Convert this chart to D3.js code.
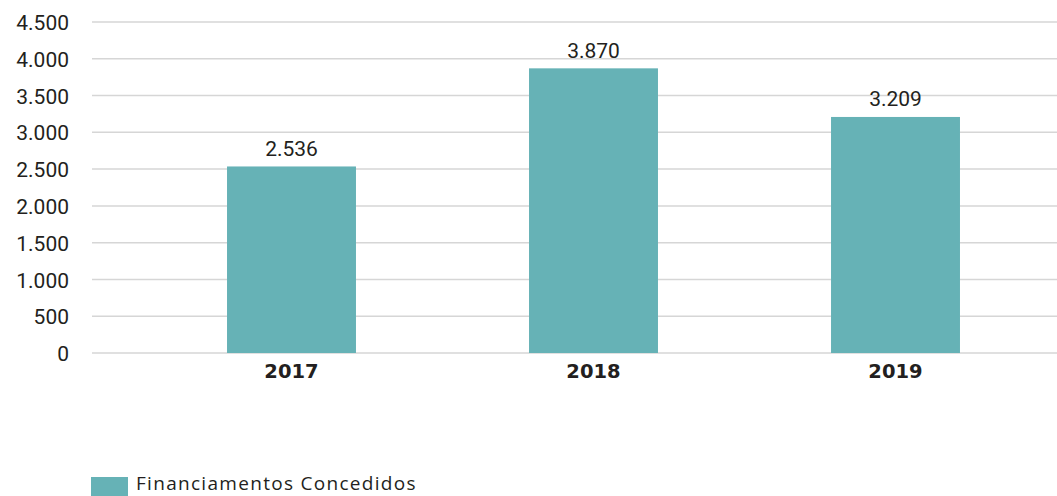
<!DOCTYPE html>
<html>
<head>
<meta charset="utf-8">
<script src="https://cdn.jsdelivr.net/npm/d3@7"></script>
<style>
  body { margin: 0; background: #fff; }
  svg { display: block; }
  .tick text { font-family: Roboto, sans-serif; font-size: 21px; fill: #231f20; }
  .grid line { stroke: #d6d6d6; stroke-width: 1.5; }
  .value { font-family: Roboto, sans-serif; font-size: 21px; fill: #231f20; text-anchor: middle; }
  .xLabel { font-family: 'DejaVu Sans', sans-serif; font-weight: bold; font-size: 19.5px; fill: #231f20; text-anchor: middle; }
  .legend { font-family: 'Open Sans', sans-serif; font-size: 19px; fill: #231f20; letter-spacing: 1.3px; }
</style>
</head>
<body>
<svg id="chart"></svg>
<script>
const years = ['2017', '2018', '2019'];
const financiamentos = [2536, 3870, 3209];
const yTicks = [0, 500, 1000, 1500, 2000, 2500, 3000, 3500, 4000, 4500];
const seriesName = 'Financiamentos Concedidos';

const width = 1057, height = 496;
const barColor = '#66b2b6';

const svg = d3.select('#chart').attr('width', width).attr('height', height);

// pt-BR style numbers: 4.500
const fmt = d3.formatLocale({ decimal: ',', thousands: '.', grouping: [3], currency: ['', ''] }).format(',');

// y scale: 0 sits on 353, 4.500 on 22
const y = d3.scaleLinear().domain([0, 4500]).range([353, 22]);

const x = d3.scaleBand()
  .domain(years)
  .range([140.5, 1046.5])
  .paddingInner(0.573)
  .paddingOuter(0.2865);

// gridlines
svg.append('g')
  .attr('class', 'grid')
  .selectAll('line')
  .data(yTicks)
  .join('line')
  .attr('x1', 92)
  .attr('x2', width)
  .attr('y1', d => y(d))
  .attr('y2', d => y(d));

// y axis labels
const yAxis = svg.append('g')
  .attr('transform', 'translate(69,0)')
  .call(d3.axisLeft(y).tickValues(yTicks).tickSize(0).tickPadding(0).tickFormat(fmt));
yAxis.select('.domain').remove();
yAxis.selectAll('.tick text').attr('dy', '0.36em');

// bars
svg.append('g')
  .selectAll('rect')
  .data(financiamentos)
  .join('rect')
  .attr('x', (d, i) => x(years[i]))
  .attr('y', d => y(d))
  .attr('width', x.bandwidth())
  .attr('height', d => y(0) - y(d))
  .attr('fill', barColor);

// value labels
svg.append('g')
  .selectAll('text')
  .data(financiamentos)
  .join('text')
  .attr('class', 'value')
  .attr('x', (d, i) => x(years[i]) + x.bandwidth() / 2)
  .attr('y', d => y(d) - 10.5)
  .text(d => fmt(d));

// x labels
svg.append('g')
  .selectAll('text')
  .data(years)
  .join('text')
  .attr('class', 'xLabel')
  .attr('x', d => x(d) + x.bandwidth() / 2)
  .attr('y', 378)
  .text(d => d);

// legend
const legend = svg.append('g').attr('transform', 'translate(91,477)');
legend.append('rect')
  .attr('width', 37)
  .attr('height', 19)
  .attr('fill', barColor);
legend.append('text')
  .attr('class', 'legend')
  .attr('x', 45)
  .attr('y', 13)
  .text(seriesName);
</script>
</body>
</html>
